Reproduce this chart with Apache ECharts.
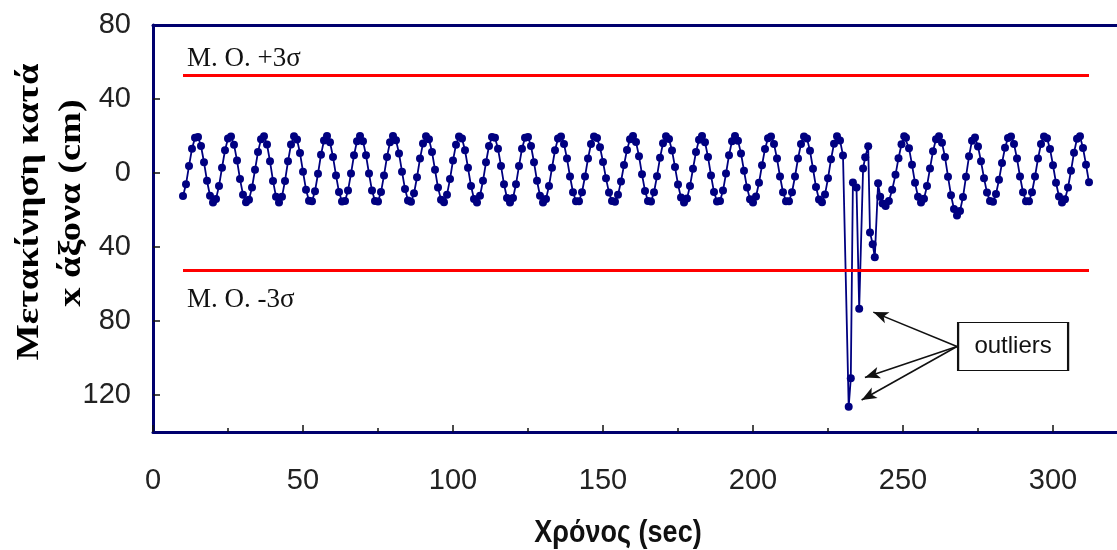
<!DOCTYPE html>
<html>
<head>
<meta charset="utf-8">
<script src="https://cdn.jsdelivr.net/npm/echarts@6/dist/echarts.min.js"></script>
<style>
  html, body { margin: 0; padding: 0; background: #ffffff; }
  #chart { width: 1117px; height: 550px; }
</style>
</head>
<body>
<div id="chart"></div>
<script>
// Sample times (s) of the x-axis displacement record
const timeSec = [
  10, 11, 12, 13, 14, 15, 16, 17, 18, 19,
  20, 21, 22, 23, 24, 25, 26, 27, 28, 29,
  30, 31, 32, 33, 34, 35, 36, 37, 38, 39,
  40, 41, 42, 43, 44, 45, 46, 47, 48, 49,
  50, 51, 52, 53, 54, 55, 56, 57, 58, 59,
  60, 61, 62, 63, 64, 65, 66, 67, 68, 69,
  70, 71, 72, 73, 74, 75, 76, 77, 78, 79,
  80, 81, 82, 83, 84, 85, 86, 87, 88, 89,
  90, 91, 92, 93, 94, 95, 96, 97, 98, 99,
  100, 101, 102, 103, 104, 105, 106, 107, 108, 109,
  110, 111, 112, 113, 114, 115, 116, 117, 118, 119,
  120, 121, 122, 123, 124, 125, 126, 127, 128, 129,
  130, 131, 132, 133, 134, 135, 136, 137, 138, 139,
  140, 141, 142, 143, 144, 145, 146, 147, 148, 149,
  150, 151, 152, 153, 154, 155, 156, 157, 158, 159,
  160, 161, 162, 163, 164, 165, 166, 167, 168, 169,
  170, 171, 172, 173, 174, 175, 176, 177, 178, 179,
  180, 181, 182, 183, 184, 185, 186, 187, 188, 189,
  190, 191, 192, 193, 194, 195, 196, 197, 198, 199,
  200, 201, 202, 203, 204, 205, 206, 207, 208, 209,
  210, 211, 212, 213, 214, 215, 216, 217, 218, 219,
  220, 221, 222, 223, 224, 225, 226, 227, 228, 229,
  230, 231.9, 232.6, 233.3, 234.5, 235.4, 236.7, 237.4, 238.4, 239.0,
  239.9, 240.6, 241.7, 242.4, 243.2, 244.2, 245.3, 246.4, 247.5, 248.5,
  249.5, 250.4, 251, 252, 253, 254, 255, 256, 257, 258,
  259, 260, 261, 262, 263, 264, 265, 266, 267, 268,
  269, 270, 271, 272, 273, 274, 275, 276, 277, 278,
  279, 280, 281, 282, 283, 284, 285, 286, 287, 288,
  289, 290, 291, 292, 293, 294, 295, 296, 297, 298,
  299, 300, 301, 302, 303, 304, 305, 306, 307, 308,
  309, 310, 311, 312
];

// Displacement along the x axis (cm) at each sample time
const displacementCm = [
  -12.4, -6.1, 3.8, 13.1, 19.0, 19.5, 14.6, 5.8, -4.2, -12.3,
  -15.9, -14.0, -7.0, 2.8, 12.3, 18.6, 19.7, 15.3, 6.8, -3.3,
  -11.7, -15.8, -14.4, -7.9, 1.7, 11.4, 18.2, 19.9, 15.4, 6.3,
  -4.3, -12.8, -16.0, -12.8, -4.3, 6.3, 15.4, 19.9, 18.1, 10.8,
  0.7, -9.0, -15.0, -15.3, -9.8, -0.4, 9.9, 17.6, 20.0, 16.6,
  8.7, -1.3, -10.3, -15.4, -15.1, -9.5, -0.3, 9.6, 17.2, 20.0,
  17.2, 9.6, -0.3, -9.5, -15.1, -15.4, -10.3, -1.3, 8.7, 16.6,
  20.0, 17.7, 10.6, 0.7, -8.7, -14.8, -15.6, -11.0, -2.3, 7.8,
  16.0, 19.9, 18.2, 11.4, 1.7, -7.9, -14.4, -15.8, -11.7, -3.3,
  6.8, 15.3, 19.7, 18.6, 12.3, 2.8, -7.0, -14.0, -15.9, -12.3,
  -4.2, 5.8, 14.6, 19.5, 19.0, 13.1, 3.8, -6.1, -13.5, -16.0,
  -13.5, -6.1, 3.8, 13.1, 19.0, 19.5, 14.6, 5.8, -4.2, -12.3,
  -15.9, -14.0, -7.0, 2.8, 12.3, 18.6, 19.7, 15.7, 7.8, -1.9,
  -10.4, -15.3, -15.3, -10.4, -1.9, 7.8, 15.7, 19.7, 18.9, 13.9,
  6.0, -2.9, -10.6, -15.2, -15.6, -11.8, -4.6, 4.3, 12.5, 18.2,
  20.0, 16.7, 9.1, -0.7, -9.7, -15.1, -15.4, -10.4, -1.7, 8.2,
  16.1, 19.9, 18.4, 12.2, 3.2, -6.2, -13.3, -16.0, -13.8, -7.0,
  2.3, 11.4, 18.0, 20.0, 16.6, 8.7, -1.3, -10.3, -15.4, -15.1,
  -9.5, -0.3, 9.6, 17.2, 20.0, 17.5, 10.6, 1.2, -7.9, -14.2,
  -15.9, -12.7, -5.3, 4.2, 13.0, 18.8, 19.7, 15.7, 7.8, -1.9,
  -10.4, -15.3, -15.3, -10.4, -1.9, 7.8, 15.7, 19.7, 18.6, 12.0,
  2.3, -7.6, -14.3, -15.8, -11.6, -2.9, 7.4, 15.8, 19.9, 17.6,
  9.5, -126.3, -111.0, -5.2, -7.9, -73.4, 2.5, 8.5, 14.5, -32.1,
  -38.5, -45.6, -5.5, -12.8, -16.5, -17.8, -15.1, -9.0, -1.0, 8.0,
  15.5, 19.9, 19.1, 13.4, 4.5, -5.3, -12.8, -16.0, -13.9, -7.0,
  2.5, 11.8, 18.3, 19.9, 16.3, 8.6, -2.0, -12.0, -19.5, -23.0,
  -20.5, -13.0, -2.0, 9.0, 17.5, 19.2, 14.3, 6.3, -2.8, -10.6,
  -15.2, -15.5, -11.3, -3.7, 5.4, 13.6, 18.9, 19.7, 15.7, 7.8,
  -1.9, -10.4, -15.3, -15.3, -10.4, -1.9, 7.8, 15.7, 19.7, 18.8,
  13.0, 4.2, -5.3, -12.7, -16.0, -14.2, -7.9, 1.2, 11.0, 18.5,
  19.8, 13.5, 4.5, -5.0
];

// Control limits: mean ± 3 standard deviations, drawn over the recorded span
const limitSpan = [10, 312];
const upperLimit = 52.7;
const lowerLimit = -52.7;
const limitLabels = ['Μ. Ο. +3σ', 'Μ. Ο. -3σ'];

// Axis tick values
const xTickInterval = 50;
const yTickValues = [-120, -80, -40, 0, 40, 80];

// Callout: box centre and the points its arrows reach (data coordinates)
const calloutText = 'outliers';
const calloutCentre = [286.7, -93.8];
const calloutArrowStart = [268.0, -93.8];
const calloutArrowTips = [[240.1, -75.2], [237.3, -110.5], [236.2, -122.7]];

const NAVY = '#000080';
const AXIS_NAVY = '#00006e';
const tickFont = '"Liberation Sans", sans-serif';

const chart = echarts.init(document.getElementById('chart'), null, { renderer: 'canvas' });

const seriesData = timeSec.map((t, i) => [t, displacementCm[i]]);

function limitLine(y, text, pos) {
  return [
    { coord: [limitSpan[0], y], symbol: 'none',
      lineStyle: { color: '#ff0000', width: 3, type: 'solid' },
      label: {
        show: true, formatter: text, position: pos,
        color: '#111', fontFamily: '"Liberation Serif", serif', fontSize: 27,
        distance: pos === 'insideStartTop' ? [4, 3] : [4, 16]
      } },
    { coord: [limitSpan[1], y], symbol: 'none' }
  ];
}

function arrowLine(tip) {
  return [
    { coord: calloutArrowStart, symbol: 'none',
      lineStyle: { color: '#111', width: 1.6, type: 'solid' },
      label: { show: false } },
    { coord: tip, symbol: 'arrow', symbolSize: [9, 15] }
  ];
}

const option = {
  animation: false,
  backgroundColor: '#ffffff',
  grid: { left: 153, top: 25, right: -86, bottom: 118, containLabel: false, outerBoundsMode: 'none' },
  xAxis: [
    {
      type: 'value', min: 0, max: 350, interval: xTickInterval,
      axisLine: { show: true, onZero: false, lineStyle: { color: AXIS_NAVY, width: 3 } },
      axisTick: { show: true, inside: true, length: 7, lineStyle: { color: '#111', width: 1.5 } },
      minorTick: { show: true, splitNumber: 2, length: 4, lineStyle: { color: '#111', width: 1.5 } },
      axisLabel: { color: '#222', fontFamily: tickFont, fontSize: 29, margin: 34 },
      splitLine: { show: false }
    },
    {
      type: 'value', position: 'top', min: 0, max: 350,
      axisLine: { show: true, onZero: false, lineStyle: { color: AXIS_NAVY, width: 3 } },
      axisTick: { show: false }, axisLabel: { show: false }, splitLine: { show: false }
    }
  ],
  yAxis: {
    type: 'value', min: -140, max: 80,
    axisLine: { show: true, onZero: false, lineStyle: { color: AXIS_NAVY, width: 3 } },
    axisTick: { show: true, inside: true, length: 7, customValues: yTickValues.slice(0, -1),
                lineStyle: { color: '#111', width: 1.5 } },
    axisLabel: { customValues: yTickValues, color: '#222', fontFamily: tickFont, fontSize: 29,
                 margin: 22, formatter: v => String(Math.abs(v)) },
    splitLine: { show: false }
  },
  series: [
    {
      type: 'line',
      data: seriesData,
      symbol: 'circle',
      symbolSize: 8,
      lineStyle: { color: NAVY, width: 1.8 },
      itemStyle: { color: NAVY },
      z: 3,
      markLine: {
        silent: true,
        animation: false,
        precision: 2,
        data: [
          limitLine(upperLimit, limitLabels[0], 'insideStartTop'),
          limitLine(lowerLimit, limitLabels[1], 'insideStartBottom'),
          ...calloutArrowTips.map(arrowLine)
        ]
      },
      markPoint: {
        silent: true,
        animation: false,
        data: [{
          coord: calloutCentre, symbol: 'rect', symbolSize: [110, 48],
          itemStyle: { color: '#ffffff', borderColor: '#111', borderWidth: 1.5 },
          label: { show: true, position: 'inside', formatter: calloutText, color: '#111',
                   fontFamily: '"Liberation Sans", sans-serif', fontSize: 24 }
        }]
      }
    }
  ],
  graphic: [
    { type: 'text', x: 30, y: 212, rotation: Math.PI / 2, scaleX: 1.2,
      style: { text: 'Μετακίνηση κατά', fill: '#000', align: 'center', verticalAlign: 'middle',
               font: 'bold 32px "Liberation Serif", serif' } },
    { type: 'text', x: 72, y: 203, rotation: Math.PI / 2, scaleX: 1.2,
      style: { text: 'x άξονα (cm)', fill: '#000', align: 'center', verticalAlign: 'middle',
               font: 'bold 32px "Liberation Serif", serif' } },
    { type: 'text', x: 618, y: 533, scaleY: 1.15,
      style: { text: 'Χρόνος (sec)', fill: '#111', align: 'center', verticalAlign: 'middle',
               font: 'bold 27px "Liberation Sans", sans-serif' } }
  ]
};

chart.setOption(option);
</script>
</body>
</html>
